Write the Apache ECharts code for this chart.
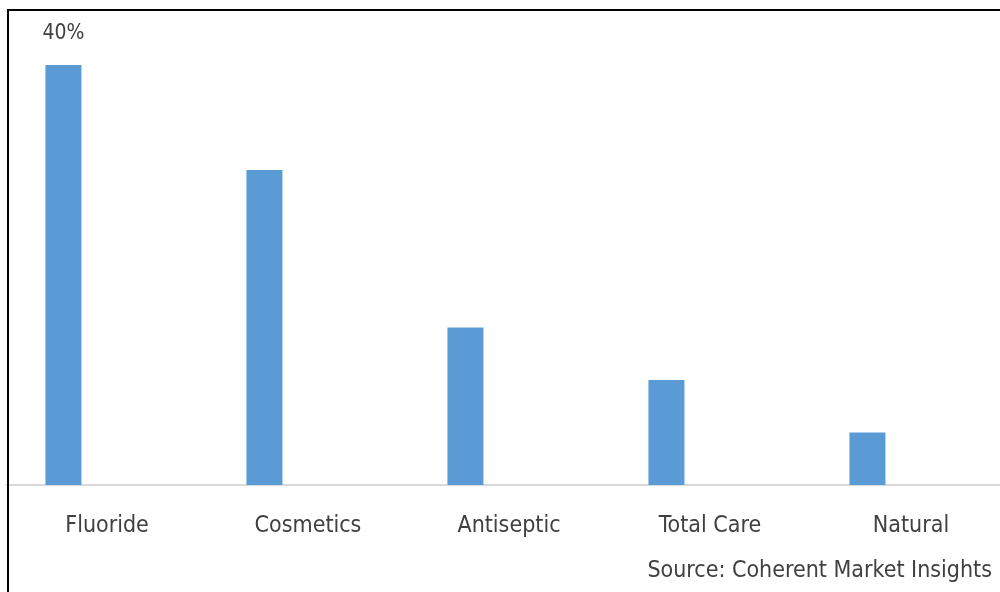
<!DOCTYPE html>
<html>
<head>
<meta charset="utf-8">
<script src="https://cdn.jsdelivr.net/npm/echarts@6/dist/echarts.min.js"></script>
<style>
html,body{margin:0;padding:0;background:#fff;}
#chart{width:1000px;height:592px;}
</style>
</head>
<body>
<div id="chart"></div>
<script>
const categories = ['Fluoride', 'Cosmetics', 'Antiseptic', 'Total Care', 'Natural'];
const shareValues = [40, 30, 15, 10, 5];
const emptySeries = [null, null, null, null, null];
const labelledIndex = 0;
const sourceText = 'Source: Coherent Market Insights';

const FONT = 'DejaVu Sans Condensed';
const chart = echarts.init(document.getElementById('chart'), null, {renderer: 'canvas'});

const seriesData = shareValues.map((v, i) => i === labelledIndex ? {
  value: v,
  label: {show: true, position: 'top', distance: 21, formatter: '{c}%',
          color: '#404040', fontFamily: FONT, fontSize: 21}
} : v);

chart.setOption({
  animation: false,
  backgroundColor: '#ffffff',
  grid: {left: 6.5, right: -11.5, top: 65, bottom: 107, containLabel: false, outerBoundsMode: 'none'},
  xAxis: {
    type: 'category',
    data: categories,
    axisLine: {show: true, lineStyle: {color: '#d9d9d9', width: 2}},
    axisTick: {show: false},
    axisLabel: {color: '#404040', fontFamily: FONT, fontSize: 23, margin: 30, interval: 0},
    splitLine: {show: false}
  },
  yAxis: {
    type: 'value', min: 0, max: 40, show: false, splitLine: {show: false}
  },
  series: [
    {type: 'bar', data: seriesData, barWidth: 36, barGap: '142%',
     itemStyle: {color: '#5b9bd5'}, silent: true},
    {type: 'bar', data: emptySeries, barWidth: 36, itemStyle: {color: '#ed7d31'}, silent: true}
  ],
  graphic: [
    {type: 'rect', z: 100, shape: {x: 8, y: 10, width: 1000, height: 600},
     style: {fill: null, stroke: '#000', lineWidth: 2}},
    {type: 'text', z: 100, right: 8, top: 560,
     style: {text: sourceText, fill: '#404040', font: '23px "' + FONT + '"'}}
  ]
});
</script>
</body>
</html>
